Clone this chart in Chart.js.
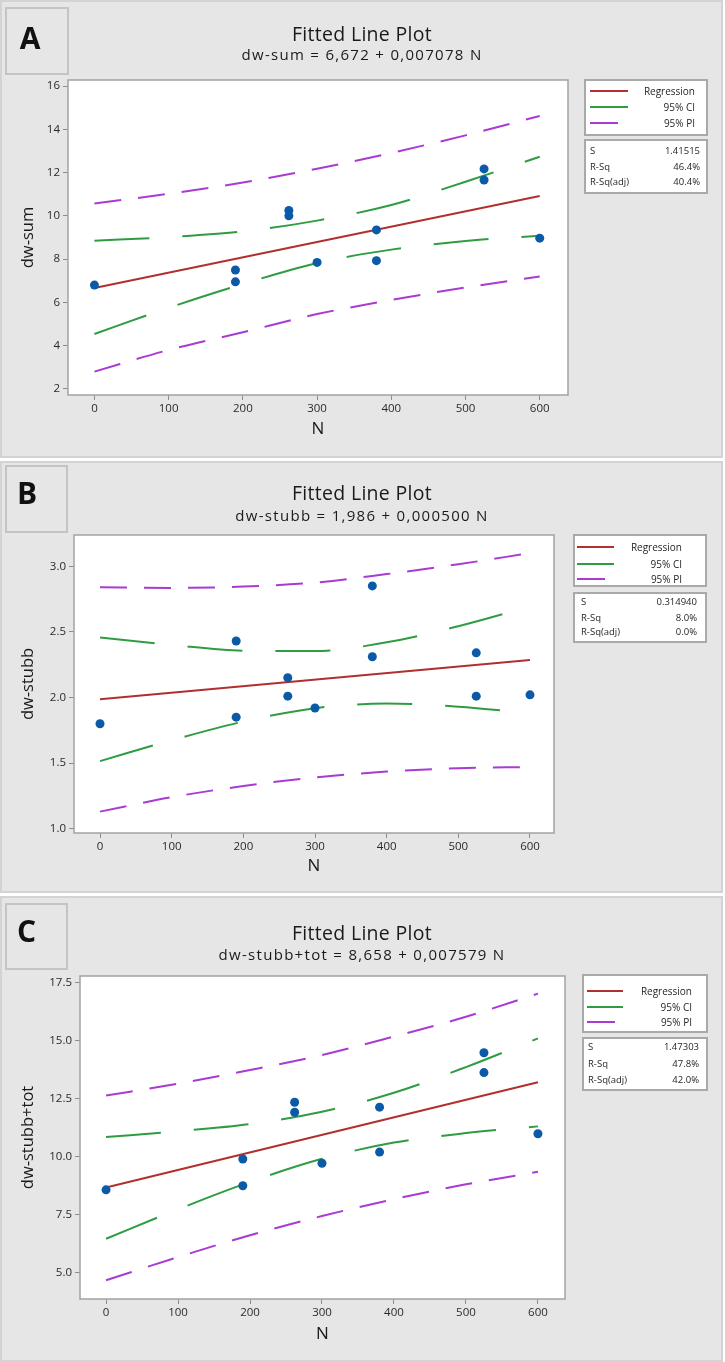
<!DOCTYPE html>
<html><head><meta charset="utf-8">
<script src="https://cdn.jsdelivr.net/npm/chart.js@4.4.1/dist/chart.umd.min.js"></script>
<style>
html,body{margin:0;padding:0;background:#fff;}
body{width:725px;height:1362px;position:relative;overflow:hidden;font-family:'Open Sans',sans-serif;color:#222;}
.panel{position:absolute;left:0;width:723px;background:#e6e6e6;box-shadow:inset 0 0 0 2px #d3d3d3;}
.panel canvas{position:absolute;left:0;top:0;}
.tag{position:absolute;box-shadow:inset 0 0 0 2px #c4c4c4;}
.letter{position:absolute;width:60px;text-align:center;font-weight:700;font-size:30px;line-height:30px;color:#111;}
.t1{position:absolute;left:0;width:724px;text-align:center;font-size:19.5px;line-height:19px;letter-spacing:0.3px;color:#1a1a1a;white-space:nowrap;}
.t2{position:absolute;left:0;width:724px;text-align:center;font-size:15px;line-height:15px;letter-spacing:1.3px;color:#1a1a1a;white-space:nowrap;}
.box{position:absolute;background:#fff;border:2px solid #a9a9a9;box-sizing:border-box;}
.lg{position:absolute;height:2px;}
.tx{position:absolute;font-size:10px;line-height:12px;white-space:nowrap;color:#262626;}
.tr{width:200px;text-align:right;}
.st{font-size:9.5px;}
</style>
</head><body>

<!-- Panel A -->
<div class="panel" id="pA" style="top:0;height:458px;">
  <canvas id="cA" width="725" height="458"></canvas>
  <div class="tag" style="left:5px;top:7px;width:64px;height:68px;"></div>
  <div class="letter" style="left:0px;top:22.7px;">A</div>
  <div class="t1" style="top:24.4px;">Fitted Line Plot</div>
  <div class="t2" style="top:47.4px;">dw-sum = 6,672 + 0,007078 N</div>
  <div class="box" style="left:584px;top:79px;width:124px;height:57px;"></div>
  <div class="lg" style="left:590px;top:89.7px;width:38px;background:#b1302f;"></div>
  <div class="lg" style="left:590px;top:106.3px;width:38px;background:#2f9c42;"></div>
  <div class="lg" style="left:590px;top:122px;width:28px;background:#a93bd3;"></div>
  <div class="tx tr" style="left:495px;top:84.7px;">Regression</div>
  <div class="tx tr" style="left:495px;top:101.3px;">95% CI</div>
  <div class="tx tr" style="left:495px;top:116.7px;">95% PI</div>
  <div class="box" style="left:584px;top:139px;width:124px;height:55px;"></div>
  <div class="tx st" style="left:590px;top:145px;">S</div>
  <div class="tx st tr" style="left:500px;top:145px;">1.41515</div>
  <div class="tx st" style="left:590px;top:160.5px;">R-Sq</div>
  <div class="tx st tr" style="left:500px;top:160.5px;">46.4%</div>
  <div class="tx st" style="left:590px;top:176px;">R-Sq(adj)</div>
  <div class="tx st tr" style="left:500px;top:176px;">40.4%</div>
</div>

<!-- Panel B -->
<div class="panel" id="pB" style="top:461px;height:432px;">
  <canvas id="cB" width="725" height="432"></canvas>
  <div class="tag" style="left:4.5px;top:4px;width:63px;height:68px;"></div>
  <div class="letter" style="left:-3px;top:17.4px;">B</div>
  <div class="t1" style="top:22.4px;">Fitted Line Plot</div>
  <div class="t2" style="top:46.7px;">dw-stubb = 1,986 + 0,000500 N</div>
  <div class="box" style="left:573px;top:73px;width:134px;height:53px;"></div>
  <div class="lg" style="left:577px;top:85.3px;width:37px;background:#b1302f;"></div>
  <div class="lg" style="left:577px;top:102px;width:37px;background:#2f9c42;"></div>
  <div class="lg" style="left:577px;top:117px;width:28px;background:#a93bd3;"></div>
  <div class="tx tr" style="left:482px;top:80.3px;">Regression</div>
  <div class="tx tr" style="left:482px;top:96.5px;">95% CI</div>
  <div class="tx tr" style="left:482px;top:111.5px;">95% PI</div>
  <div class="box" style="left:573px;top:131px;width:134px;height:51px;"></div>
  <div class="tx st" style="left:581px;top:134.7px;">S</div>
  <div class="tx st tr" style="left:497px;top:134.7px;">0.314940</div>
  <div class="tx st" style="left:581px;top:150.7px;">R-Sq</div>
  <div class="tx st tr" style="left:497px;top:150.7px;">8.0%</div>
  <div class="tx st" style="left:581px;top:164.7px;">R-Sq(adj)</div>
  <div class="tx st tr" style="left:497px;top:164.7px;">0.0%</div>
</div>

<!-- Panel C -->
<div class="panel" id="pC" style="top:896px;height:466px;">
  <canvas id="cC" width="725" height="466"></canvas>
  <div class="tag" style="left:4.5px;top:6.7px;width:63px;height:67.3px;"></div>
  <div class="letter" style="left:-3.5px;top:20px;">C</div>
  <div class="t1" style="top:26.7px;">Fitted Line Plot</div>
  <div class="t2" style="top:51.4px;">dw-stubb+tot = 8,658 + 0,007579 N</div>
  <div class="box" style="left:582px;top:78px;width:126px;height:59px;"></div>
  <div class="lg" style="left:587px;top:93.7px;width:36px;background:#b1302f;"></div>
  <div class="lg" style="left:587px;top:110.3px;width:36px;background:#2f9c42;"></div>
  <div class="lg" style="left:587px;top:124.7px;width:28px;background:#a93bd3;"></div>
  <div class="tx tr" style="left:492px;top:88.7px;">Regression</div>
  <div class="tx tr" style="left:492px;top:105px;">95% CI</div>
  <div class="tx tr" style="left:492px;top:119.5px;">95% PI</div>
  <div class="box" style="left:582px;top:141px;width:126px;height:54px;"></div>
  <div class="tx st" style="left:588px;top:145.3px;">S</div>
  <div class="tx st tr" style="left:499px;top:145.3px;">1.47303</div>
  <div class="tx st" style="left:588px;top:162px;">R-Sq</div>
  <div class="tx st tr" style="left:499px;top:162px;">47.8%</div>
  <div class="tx st" style="left:588px;top:178px;">R-Sq(adj)</div>
  <div class="tx st tr" style="left:499px;top:178px;">42.0%</div>
</div>

<script>
// ---------- DATA ----------
const nTicks = [0, 100, 200, 300, 400, 500, 600];
const bandN = [0, 100, 200, 300, 400, 500, 600];
const fitN = [0, 600];
const pointN = [0, 190, 190, 262, 262, 300, 380, 380, 525, 525, 600];

// A: dw-sum
const sumTicks = [2, 4, 6, 8, 10, 12, 14, 16];
const sumPoints = [6.80, 7.50, 6.95, 10.25, 10.00, 7.85, 9.35, 7.93, 12.17, 11.66, 8.97];
const sumFit = [6.67, 10.92];
const sumCIUpper = [8.85, 9.02, 9.28, 9.78, 10.50, 11.58, 12.73];
const sumCILower = [4.54, 5.75, 6.85, 7.82, 8.44, 8.84, 9.08];
const sumPIUpper = [10.57, 11.02, 11.54, 12.18, 12.91, 13.72, 14.62];
const sumPILower = [2.80, 3.80, 4.62, 5.46, 6.11, 6.69, 7.20];

// B: dw-stubb
const stubbTicks = [1.0, 1.5, 2.0, 2.5, 3.0];
const stubbPoints = [1.80, 2.43, 1.85, 2.15, 2.01, 1.92, 2.85, 2.31, 2.34, 2.01, 2.02];
const stubbFit = [1.986, 2.286];
const stubbCIUpper = [2.457, 2.400, 2.356, 2.354, 2.420, 2.543, 2.693];
const stubbCILower = [1.515, 1.674, 1.816, 1.918, 1.953, 1.930, 1.879];
const stubbPIUpper = [2.840, 2.835, 2.845, 2.875, 2.940, 3.015, 3.100];
const stubbPILower = [1.130, 1.240, 1.325, 1.390, 1.435, 1.460, 1.470];

// C: dw-stubb+tot
const totTicks = [5.0, 7.5, 10.0, 12.5, 15.0, 17.5];
const totPoints = [8.56, 9.89, 8.74, 12.34, 11.91, 9.71, 12.13, 10.19, 14.48, 13.62, 10.98];
const totFit = [8.658, 13.205];
const totCIUpper = [10.84, 11.09, 11.40, 11.93, 12.75, 13.86, 15.10];
const totCILower = [6.45, 7.72, 8.90, 9.90, 10.60, 11.01, 11.30];
const totPIUpper = [12.63, 13.14, 13.73, 14.38, 15.18, 16.03, 17.03];
const totPILower = [4.66, 5.66, 6.60, 7.43, 8.16, 8.80, 9.34];

// ---------- STYLE ----------
const RED = '#b1302f', GREEN = '#2f9c42', PURPLE = '#a93bd3', BLUE = '#0b5aa8';
Chart.defaults.font.family = "'Open Sans', sans-serif";

const framePlugin = {
  id: 'frame',
  beforeDatasetsDraw(chart) {
    const {ctx, chartArea: a} = chart;
    ctx.save(); ctx.fillStyle = '#ffffff';
    ctx.fillRect(a.left, a.top, a.right - a.left, a.bottom - a.top);
    ctx.restore();
  },
  afterDraw(chart) {
    const {ctx, chartArea: a} = chart;
    ctx.save(); ctx.strokeStyle = '#a2a2a2'; ctx.lineWidth = 1.5;
    ctx.strokeRect(a.left, a.top, a.right - a.left, a.bottom - a.top);
    ctx.restore();
  }
};

const xy = (xs, ys) => xs.map((x, i) => ({x: x, y: ys[i]}));

function makeChart(id, c) {
  const band = (vals, color, dash) => ({
    data: xy(bandN, vals), borderColor: color, borderWidth: 2, borderDash: dash,
    pointRadius: 0, fill: false, cubicInterpolationMode: 'monotone'
  });
  new Chart(document.getElementById(id), {
    type: 'line',
    data: { datasets: [
      { data: xy(pointN, c.points), showLine: false, pointRadius: 4.5,
        pointBackgroundColor: BLUE, pointBorderColor: BLUE, pointBorderWidth: 0 },
      { data: xy(fitN, c.fit), borderColor: RED, borderWidth: 2, pointRadius: 0, fill: false },
      band(c.ciU, GREEN, [55, 33]),
      band(c.ciL, GREEN, [55, 33]),
      band(c.piU, PURPLE, [27, 17]),
      band(c.piL, PURPLE, [27, 17])
    ]},
    options: {
      responsive: false, animation: false, events: [], devicePixelRatio: 1,
      layout: { padding: { left: 0, top: c.padTop, right: c.padRight, bottom: 0 } },
      plugins: { legend: { display: false }, tooltip: { enabled: false } },
      scales: {
        x: {
          type: 'linear', min: c.xMin, max: c.xMax,
          afterFit(s) { s.height = c.xH; },
          afterBuildTicks(s) { s.ticks = nTicks.map(v => ({value: v})); },
          ticks: { font: { size: 11.5 }, color: '#2a2a2a', padding: 2, maxRotation: 0,
                   callback: v => String(v) },
          grid: { drawOnChartArea: false, drawTicks: true, tickLength: 5, color: '#8c8c8c' },
          border: { display: false },
          title: { display: true, text: 'N', font: { size: 17 }, color: '#1a1a1a',
                   padding: { top: 0, bottom: c.xTitlePad } }
        },
        y: {
          type: 'linear', min: c.yMin, max: c.yMax,
          afterFit(s) { s.width = c.yW; },
          afterBuildTicks(s) { s.ticks = c.yTicks.map(v => ({value: v})); },
          ticks: { font: { size: 11.5 }, color: '#2a2a2a', padding: 3,
                   callback: v => c.fmt(v) },
          grid: { drawOnChartArea: false, drawTicks: true, tickLength: 5, color: '#8c8c8c' },
          border: { display: false },
          title: { display: true, text: c.yTitle, font: { size: 16.5 }, color: '#1a1a1a',
                   padding: { top: 18.8, bottom: 0 } }
        }
      }
    },
    plugins: [framePlugin]
  });
}

makeChart('cA', {
  points: sumPoints, fit: sumFit, ciU: sumCIUpper, ciL: sumCILower, piU: sumPIUpper, piL: sumPILower,
  yTicks: sumTicks, fmt: v => String(v), yTitle: 'dw-sum',
  xMin: -35.6, xMax: 638.1, yMin: 1.72, yMax: 16.28,
  padTop: 80, padRight: 157, yW: 68, xH: 63, xTitlePad: 18.4
});
makeChart('cB', {
  points: stubbPoints, fit: stubbFit, ciU: stubbCIUpper, ciL: stubbCILower, piU: stubbPIUpper, piL: stubbPILower,
  yTicks: stubbTicks, fmt: v => v.toFixed(1), yTitle: 'dw-stubb',
  xMin: -36.3, xMax: 633.5, yMin: 0.967, yMax: 3.238,
  padTop: 74, padRight: 171, yW: 74, xH: 60, xTitlePad: 16.7
});
makeChart('cC', {
  points: totPoints, fit: totFit, ciU: totCIUpper, ciL: totCILower, piU: totPIUpper, piL: totPILower,
  yTicks: totTicks, fmt: v => v.toFixed(1), yTitle: 'dw-stubb+tot',
  xMin: -36.2, xMax: 637.6, yMin: 3.85, yMax: 17.79,
  padTop: 80, padRight: 160, yW: 80, xH: 63, xTitlePad: 17.4
});
</script>
</body></html>
